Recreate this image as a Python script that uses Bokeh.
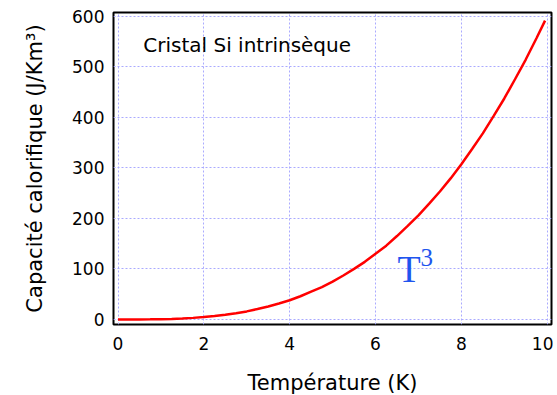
from bokeh.plotting import figure
from bokeh.models import Range1d, FixedTicker, ColumnDataSource
from bokeh.core.properties import value
from bokeh.embed import file_html
from bokeh.resources import INLINE

# Data
temperature = [0, 0.25, 0.5, 0.75, 1, 1.25, 1.5, 1.75, 2, 2.25, 2.5, 2.75, 3, 3.25, 3.5, 3.75,
               4, 4.25, 4.5, 4.75, 5, 5.25, 5.5, 5.75, 6, 6.25, 6.5, 6.75, 7, 7.25, 7.5, 7.75,
               8, 8.25, 8.5, 8.75, 9, 9.25, 9.5, 9.75, 9.95]
capacity = [0, 0, 0.1, 0.3, 0.6, 1.2, 2, 3.2, 4.8, 6.8, 9.4, 12.5, 16, 20.6, 25.7, 31.6,
            38, 46, 55, 64, 75, 87, 100, 114, 130, 146, 165, 185, 206, 229, 253, 279,
            307, 337, 368, 402, 437, 475, 514, 556, 591]
x_ticks = [0, 2, 4, 6, 8, 10]
y_ticks = [0, 100, 200, 300, 400, 500, 600]
title_text = "Cristal Si intrinsèque"

p = figure(output_backend="svg", toolbar_location=None,
           frame_width=438, frame_height=312,
           min_border_left=113, min_border_right=2, min_border_top=12, min_border_bottom=60,
           x_range=Range1d(-0.105, 10.1), y_range=Range1d(-9.9, 607))
p.background_fill_color = "white"
p.border_fill_color = "white"
p.outline_line_color = "black"
p.outline_line_width = 2

for ax in (p.xaxis, p.yaxis):
    ax.axis_line_color = None
    ax.major_tick_line_color = None
    ax.minor_tick_line_color = None
    ax.major_label_text_font = "DejaVu Sans"
    ax.major_label_text_font_size = "17px"
    ax.major_label_text_color = "black"
    ax.axis_label_text_font = "DejaVu Sans"
    ax.axis_label_text_font_style = "normal"
    ax.axis_label_text_color = "black"

p.xaxis.axis_label_text_font_size = "21px"
p.yaxis.axis_label_text_font_size = "21px"
p.xaxis.ticker = FixedTicker(ticks=x_ticks)
p.yaxis.ticker = FixedTicker(ticks=y_ticks)
p.xaxis.major_label_standoff = 6
p.yaxis.major_label_standoff = 3
p.xaxis.axis_label_standoff = 18
p.yaxis.axis_label_standoff = 22
p.xaxis.axis_label = "Température (K)"
p.yaxis.axis_label = "Capacité calorifique (J/Km³)"

for g in (p.xgrid, p.ygrid):
    g.grid_line_color = "#aaaaff"
    g.grid_line_dash = "2 2"
    g.grid_line_width = 1

src = ColumnDataSource(dict(t=temperature, c=capacity))
p.line("t", "c", source=src, line_color="#ff0000", line_width=2.5)

p.text(x=[0.59], y=[542], text=[title_text], text_font=value("DejaVu Sans"),
       text_font_size="20px", text_baseline="middle", text_color="black")
p.text(x=[6.51], y=[98.9], text=["T"], text_font=value("Liberation Serif"),
       text_font_size="38px", text_baseline="alphabetic", text_color="#1f55ee")
p.text(x=[7.05], y=[122.6], text=["3"], text_font=value("Liberation Serif"),
       text_font_size="25px", text_baseline="alphabetic", text_color="#1f55ee")

open("out.html", "w").write(file_html(p, INLINE))
